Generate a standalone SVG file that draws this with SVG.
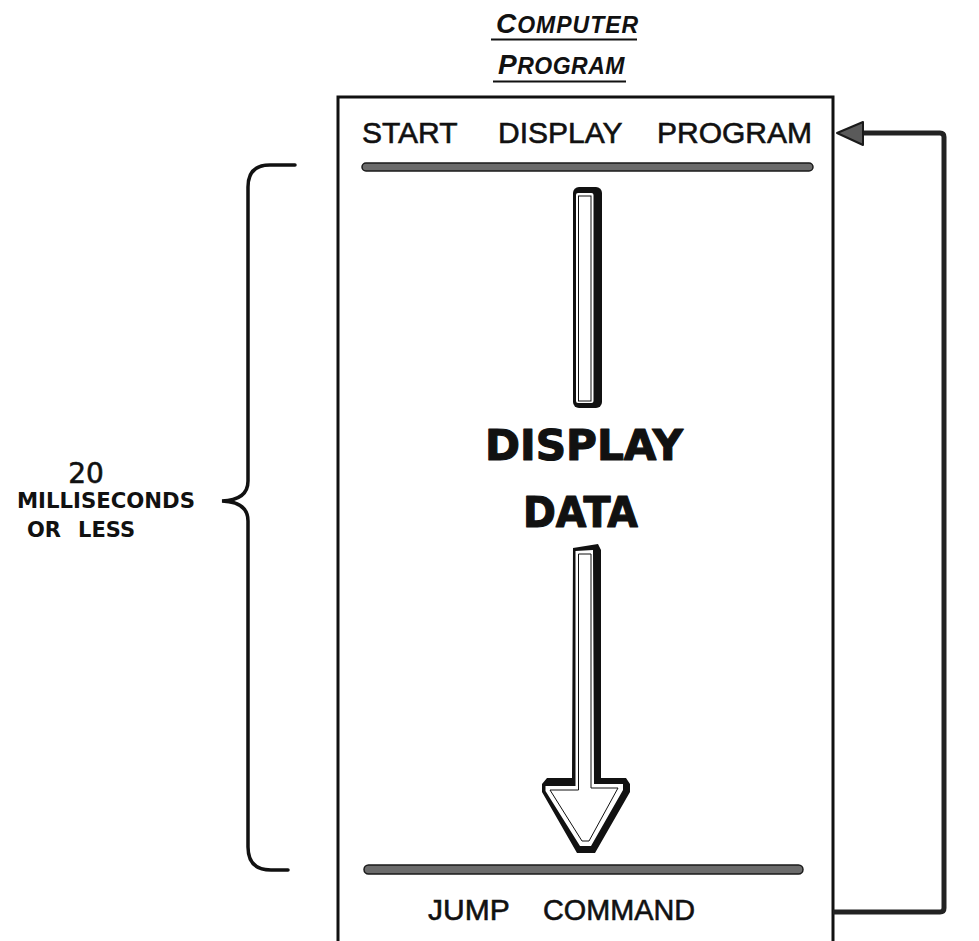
<svg xmlns="http://www.w3.org/2000/svg" width="979" height="941" viewBox="0 0 979 941">
<style>
  .lbl { font-family: "Liberation Sans", Arial, sans-serif; fill: #111; stroke: #111; stroke-width: 0.6; }
  .hdr { font-family: "Liberation Sans", Arial, sans-serif; font-style: italic; font-weight: bold; fill: #111; }
  .big { font-family: "DejaVu Sans", "Liberation Sans", sans-serif; font-weight: bold; fill: #111; stroke: #111; stroke-width: 1.2; stroke-linejoin: round; }
  .side { font-family: "DejaVu Sans", "Liberation Sans", sans-serif; fill: #111; }
  .bar { fill: #6b6b6b; stroke: #1a1a1a; stroke-width: 1.5; }
  .wire { fill: none; stroke: #222; stroke-width: 5; stroke-linejoin: round; }
  .ul { stroke: #111; stroke-width: 2; }
</style>
<rect width="979" height="941" fill="#ffffff"/>

<g id="header">
  <text class="hdr" x="496" y="33" font-size="23" letter-spacing="1"><tspan font-size="28">C</tspan>OMPUTER</text>
  <line class="ul" x1="491" y1="39.5" x2="637" y2="39.5"/>
  <text class="hdr" x="498" y="74" font-size="23" letter-spacing="0.5"><tspan font-size="28">P</tspan>ROGRAM</text>
  <line class="ul" x1="493" y1="81.5" x2="626" y2="81.5"/>
</g>

<g id="program-box">
  <path d="M338,945 V97 H833 V945" fill="none" stroke="#111" stroke-width="3"/>
  <text class="lbl" font-size="30" y="143"><tspan x="362">START</tspan><tspan x="498">DISPLAY</tspan><tspan x="657">PROGRAM</tspan></text>
  <rect class="bar" x="362" y="163" width="451" height="8" rx="4"/>
  <rect class="bar" x="364" y="865" width="439" height="9" rx="4.5"/>
  <text class="lbl" font-size="30" y="920"><tspan x="428">JUMP</tspan><tspan x="543" textLength="152" lengthAdjust="spacingAndGlyphs">COMMAND</tspan></text>
</g>

<g id="display-data">
  <text class="big" x="485" y="460" font-size="42" textLength="198" lengthAdjust="spacingAndGlyphs">DISPLAY</text>
  <text class="big" x="523" y="527" font-size="42" textLength="115" lengthAdjust="spacingAndGlyphs">DATA</text>
</g>

<g id="upper-shaft">
  <rect x="573" y="187" width="29" height="221" rx="6" fill="#111"/>
  <rect x="576" y="193" width="17.5" height="210" rx="2" fill="#fff"/>
  <rect x="578.5" y="196" width="12.5" height="205" fill="#fff" stroke="#111" stroke-width="1"/>
</g>

<g id="lower-arrow">
  <polygon points="573,548 598,544 601,550 601,778 626,778 630,784 630,792 595,853 577,853 542,792 542,784 547,778 572,778" fill="#111"/>
  <polygon points="575.5,551 593,550 594,784 623,784 623,790 591,846 580,846 545.5,791 545.5,786 575.5,786" fill="#fff"/>
  <polygon points="578.5,554 591,554 591,788 618,788 589,841 582,841 550,790 578.5,790" fill="#fff" stroke="#111" stroke-width="1" stroke-linejoin="round"/>
</g>

<g id="bracket">
  <path d="M295,165 H270 Q248,165 248,187 V481 Q248,500 222,501 Q248,502 248,521 V847 Q248,870 271,870 H288" fill="none" stroke="#111" stroke-width="3.5" stroke-linecap="round"/>
  <text class="side" x="86" y="483" font-size="28" text-anchor="middle" stroke="#111" stroke-width="0.6">20</text>
  <text class="side" x="17" y="508" font-size="21" font-weight="bold" textLength="178" lengthAdjust="spacingAndGlyphs">MILLISECONDS</text>
  <text class="side" font-size="21" font-weight="bold" y="537"><tspan x="27">OR</tspan><tspan x="78">LESS</tspan></text>
</g>

<g id="connectors">
  <path class="wire" d="M833,912 H940 Q944,912 944,908 V137 Q944,133 940,133 H860"/>
  <polygon points="837,133 863,122 863,145" fill="#5a5a5a" stroke="#1a1a1a" stroke-width="2" stroke-linejoin="round"/>
</g>
</svg>
